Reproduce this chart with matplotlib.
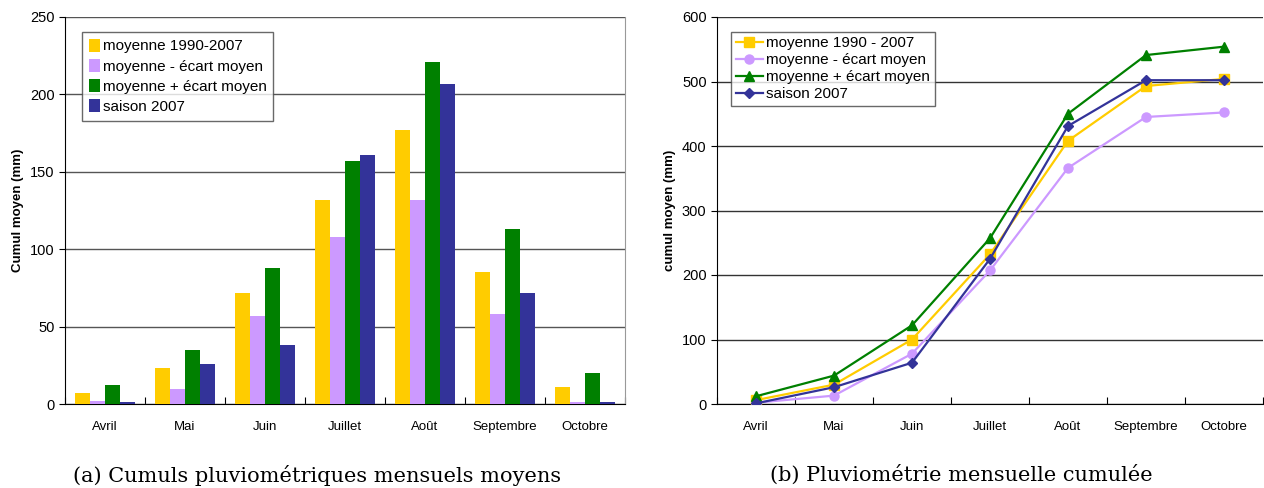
import numpy as np
import matplotlib.pyplot as plt

mois = ['Avril', 'Mai', 'Juin', 'Juillet', 'Août', 'Septembre', 'Octobre']

# (a) cumuls mensuels moyens (mm)
moy_mens = [7, 23, 72, 132, 177, 85, 11]
moins_mens = [2, 10, 57, 108, 132, 58, 1]
plus_mens = [12, 35, 88, 157, 221, 113, 20]
s2007_mens = [1.5, 26, 38, 161, 207, 72, 1]

# (b) pluviométrie cumulée (mm)
moy_cum = [6, 30, 100, 232, 408, 493, 504]
moins_cum = [2, 13, 78, 207, 366, 445, 452]
plus_cum = [12, 44, 122, 257, 450, 541, 554]
s2007_cum = [1, 26, 64, 225, 431, 502, 502]

c_jaune = '#FFCC00'
c_lilas = '#CC99FF'
c_vert = '#008000'
c_bleu = '#333399'

plt.rcParams['font.family'] = ['Liberation Sans', 'DejaVu Sans']

fig = plt.figure(figsize=(12.64, 4.88), dpi=100)
W, H = 1264, 488
ax1 = fig.add_axes([65 / W, 1 - 404 / H, 560 / W, 387 / H])
ax2 = fig.add_axes([717 / W, 1 - 404 / H, 546 / W, 387 / H])

x = np.arange(len(mois))
bw = 0.185
series = [(moy_mens, c_jaune, 'moyenne 1990-2007'),
          (moins_mens, c_lilas, 'moyenne - écart moyen'),
          (plus_mens, c_vert, 'moyenne + écart moyen'),
          (s2007_mens, c_bleu, 'saison 2007')]
for i, (vals, col, lab) in enumerate(series):
    ax1.bar(x + (i - 1.5) * bw, vals, bw, color=col, label=lab, zorder=3)

ax1.set_xlim(-0.5, 6.5)
ax1.set_ylim(0, 250)
ax1.set_yticks(range(0, 251, 50))
ax1.yaxis.grid(True, color='#555555', lw=1, zorder=0)
ax1.set_xticks(np.arange(-0.5, 7, 1))
ax1.set_xticklabels([])
ax1.set_xticks(x, minor=True)
ax1.set_xticklabels(mois, minor=True, fontsize=9.5)
ax1.tick_params(axis='x', which='minor', length=0, pad=12)
ax1.tick_params(axis='x', which='major', length=5, direction='in')
ax1.tick_params(axis='y', labelsize=10.5, length=4, direction='out')
ax1.set_ylabel('Cumul moyen (mm)', fontsize=9.5, fontweight='bold')
ax1.spines['right'].set_color('#999999')
ax1.spines['top'].set_visible(False)
leg1 = ax1.legend(loc='upper left', bbox_to_anchor=(0.025, 0.97), fontsize=11,
                  frameon=True, fancybox=False, edgecolor='#444444',
                  handlelength=0.75, handleheight=0.95, handletextpad=0.15,
                  labelspacing=0.35, borderpad=0.45, borderaxespad=0.2)
leg1.get_frame().set_linewidth(1)

lines = [(moy_cum, c_jaune, 's', 6.5, 'moyenne 1990 - 2007'),
         (moins_cum, c_lilas, 'o', 6.5, 'moyenne - écart moyen'),
         (plus_cum, c_vert, '^', 6.5, 'moyenne + écart moyen'),
         (s2007_cum, c_bleu, 'D', 5, 'saison 2007')]
for vals, col, mk, ms, lab in lines:
    ax2.plot(x, vals, color=col, marker=mk, ms=ms, lw=1.6, label=lab, zorder=3)

ax2.set_xlim(-0.5, 6.5)
ax2.set_ylim(0, 600)
ax2.set_yticks(range(0, 601, 100))
ax2.yaxis.grid(True, color='#333333', lw=1, zorder=0)
ax2.set_xticks(np.arange(-0.5, 7, 1))
ax2.set_xticklabels([])
ax2.set_xticks(x, minor=True)
ax2.set_xticklabels(mois, minor=True, fontsize=9.5)
ax2.tick_params(axis='x', which='minor', length=0, pad=12)
ax2.tick_params(axis='x', which='major', length=5, direction='in')
ax2.tick_params(axis='y', labelsize=10.5, length=4, direction='out')
ax2.set_ylabel('cumul moyen (mm)', fontsize=9.5, fontweight='bold')
ax2.spines['top'].set_visible(False)
ax2.spines['right'].set_visible(False)
leg2 = ax2.legend(loc='upper left', bbox_to_anchor=(0.02, 0.97), fontsize=11,
                  frameon=True, fancybox=False, edgecolor='#444444',
                  handlelength=1.8, handletextpad=0.2,
                  labelspacing=0.2, borderpad=0.3, borderaxespad=0.2)
leg2.get_frame().set_linewidth(1)

fig.text(317 / W, 1 - 475 / H, '(a) Cumuls pluviométriques mensuels moyens',
         ha='center', va='center', fontsize=15, family=['DejaVu Serif'])
fig.text(961 / W, 1 - 475 / H, '(b) Pluviométrie mensuelle cumulée',
         ha='center', va='center', fontsize=15, family=['DejaVu Serif'])

fig.savefig('out.png', dpi=100)
